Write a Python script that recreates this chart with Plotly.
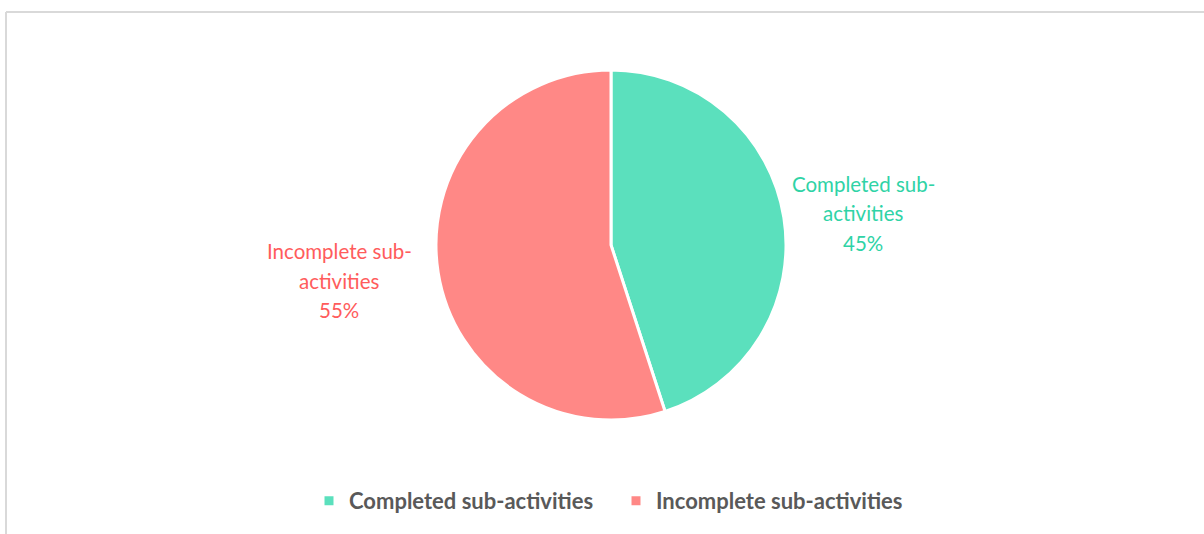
import plotly.graph_objects as go

labels = ["Completed sub-activities", "Incomplete sub-activities"]
values = [45, 55]
slice_colors = ["#5BE0BD", "#FF8886"]
label_colors = ["#2FD3A6", "#FF5C5C"]
label_lines = [["Completed sub-", "activities"], ["Incomplete sub-", "activities"]]

W, H = 1204, 534
fig = go.Figure()
fig.add_trace(go.Pie(
    labels=labels, values=values, sort=False, direction="clockwise", rotation=0,
    marker=dict(colors=slice_colors, line=dict(color="white", width=3)),
    textinfo="none", hoverinfo="label+percent",
    domain=dict(x=[436 / W, 786 / W], y=[1 - 420 / H, 1 - 70 / H]),
))

total = sum(values)
centers = [(863, 184), (339, 251)]
for i, (cx, cy) in enumerate(centers):
    pct = round(values[i] / total * 100)
    lines = label_lines[i] + [f"{pct}%"]
    for j, t in enumerate(lines):
        fig.add_annotation(x=cx / W, y=1 - (cy + 29.5 * j) / H, xref="paper", yref="paper",
                           showarrow=False, xanchor="center", yanchor="middle",
                           text=t, font=dict(family="Lato", size=20.5, color=label_colors[i]))

# frame lines
fig.add_shape(type="line", xref="paper", yref="paper", x0=6 / W, x1=1.0, y0=1 - 12 / H, y1=1 - 12 / H,
              line=dict(color="#D9D9D9", width=2))
fig.add_shape(type="line", xref="paper", yref="paper", x0=6 / W, x1=6 / W, y0=0, y1=1 - 12 / H,
              line=dict(color="#D9D9D9", width=2))

fig.update_layout(
    width=W, height=H, margin=dict(l=0, r=0, t=0, b=0),
    paper_bgcolor="white", plot_bgcolor="white",
    showlegend=True,
    legend=dict(orientation="h", x=309 / W, xanchor="left", y=1 - 501 / H, yanchor="middle",
                entrywidth=262, entrywidthmode="pixels",
                font=dict(family="Lato", size=22, color="#595959", weight="bold"),
                tracegroupgap=0),
)
fig.write_html("out.html", config={"displayModeBar": False},
               post_script="document.body.style.margin='0';")
